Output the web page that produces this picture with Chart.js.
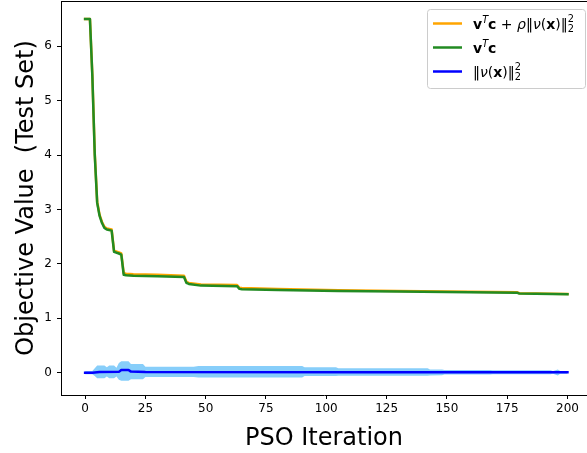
<!DOCTYPE html>
<html>
<head>
<meta charset="utf-8">
<script src="https://cdn.jsdelivr.net/npm/chart.js@4"></script>
<style>
  html, body { margin: 0; padding: 0; background: #fff; }
  #wrap { width: 587px; height: 453px; }
</style>
</head>
<body>
<div id="wrap"><canvas id="psoChart" width="587" height="453"></canvas></div>
<script>
// PSO convergence: objective value on the test set per iteration
// Values (breakpoints only)

// v^T c  (green)
const costIter = [0, 2, 3, 4, 5, 6, 7, 8, 9, 11, 12, 14, 15, 16, 17, 20, 30, 41, 42, 43, 48, 63, 64, 65, 80, 105, 130, 179, 180, 200];
const costVal  = [6.50, 6.50, 5.45, 4.00, 3.12, 2.88, 2.75, 2.66, 2.63, 2.61, 2.22, 2.19, 2.17, 1.80, 1.79, 1.78, 1.77, 1.76, 1.65, 1.63, 1.60, 1.59, 1.54, 1.535, 1.52, 1.50, 1.49, 1.47, 1.455, 1.44];

// v^T c + rho ||nu(x)||^2  (orange)
const totalIter = [0, 2, 3, 4, 5, 6, 7, 8, 9, 11, 12, 14, 15, 16, 17, 20, 30, 41, 42, 43, 48, 63, 64, 65, 80, 105, 130, 179, 180, 200];
const totalVal  = [6.50, 6.50, 5.47, 4.03, 3.14, 2.90, 2.77, 2.68, 2.65, 2.63, 2.24, 2.21, 2.19, 1.83, 1.82, 1.81, 1.80, 1.78, 1.67, 1.65, 1.62, 1.61, 1.56, 1.555, 1.54, 1.515, 1.50, 1.48, 1.46, 1.445];

// ||nu(x)||^2 mean (blue)
const violIter = [0, 3, 6, 14, 15, 18, 19, 25, 120, 200];
const violVal  = [0.0, 0.0, 0.012, 0.015, 0.05, 0.05, 0.02, 0.013, 0.01, 0.006];

// spread band around ||nu(x)||^2 (light blue)
const bandIter = [0, 3, 4, 5, 8, 9, 10, 12, 13, 14, 15, 18, 19, 24, 25, 45, 47, 90, 91, 104, 105, 142, 143, 148, 149, 168, 169, 193, 194, 196, 197, 200];
const bandHi   = [0.03, 0.03, 0.08, 0.13, 0.13, 0.10, 0.13, 0.13, 0.09, 0.18, 0.21, 0.21, 0.16, 0.16, 0.11, 0.11, 0.125, 0.125, 0.10, 0.10, 0.08, 0.08, 0.06, 0.06, 0.05, 0.05, 0.045, 0.045, 0.03, 0.06, 0.03, 0.02];
const bandLo   = [-0.03, -0.03, -0.06, -0.10, -0.10, -0.07, -0.10, -0.10, -0.07, -0.13, -0.15, -0.15, -0.12, -0.12, -0.08, -0.08, -0.09, -0.09, -0.06, -0.06, -0.055, -0.055, -0.05, -0.045, -0.035, -0.035, -0.03, -0.03, -0.02, -0.05, -0.02, -0.02];

const xTickStep = 25;
const yTickStep = 1;

const FONT = '"DejaVu Sans", "Liberation Sans", sans-serif';

function pts(xs, ys) {
    return xs.map((x, i) => ({ x: x, y: ys[i] }));
}

// draws mathtext-like label pieces
function drawRich(ctx, segs, x, y, size) {
    segs.forEach(s => {
        const sz = size * (s.s || 1);
        const style = s.f === 'b' ? 'bold ' : (s.f === 'i' ? 'italic ' : '');
        ctx.font = style + sz + 'px ' + FONT;
        ctx.fillText(s.t, x, y + (s.dy || 0) * size);
        if (s.adv !== false) x += ctx.measureText(s.t).width;
    });
}

const legendItems = [
    { color: '#FFA500', segs: [
        { t: 'v', f: 'b' }, { t: 'T', f: 'i', s: 0.7, dy: -0.42 }, { t: 'c', f: 'b' },
        { t: ' + ' }, { t: 'ρ', f: 'i' }, { t: '‖' }, { t: 'ν', f: 'i' }, { t: '(' },
        { t: 'x', f: 'b' }, { t: ')' }, { t: '‖' },
        { t: '2', s: 0.7, dy: -0.45, adv: false }, { t: '2', s: 0.7, dy: 0.25 }
    ] },
    { color: '#228B22', segs: [
        { t: 'v', f: 'b' }, { t: 'T', f: 'i', s: 0.7, dy: -0.42 }, { t: 'c', f: 'b' }
    ] },
    { color: '#0000FF', segs: [
        { t: '‖' }, { t: 'ν', f: 'i' }, { t: '(' }, { t: 'x', f: 'b' }, { t: ')' }, { t: '‖' },
        { t: '2', s: 0.7, dy: -0.45, adv: false }, { t: '2', s: 0.7, dy: 0.25 }
    ] }
];

const framePlugin = {
    id: 'frame',
    afterDraw(chart) {
        const { ctx, chartArea } = chart;
        ctx.save();
        // top spine
        ctx.strokeStyle = '#000';
        ctx.lineWidth = 1;
        ctx.beginPath();
        ctx.moveTo(chartArea.left, chartArea.top + 0.5);
        ctx.lineTo(chartArea.right, chartArea.top + 0.5);
        ctx.stroke();

        // legend box
        const bx = 427, by = 9, bw = 158, bh = 79;
        ctx.beginPath();
        ctx.roundRect(bx + 0.5, by + 0.5, bw, bh, 3);
        ctx.fillStyle = 'rgba(255,255,255,0.8)';
        ctx.fill();
        ctx.strokeStyle = '#cccccc';
        ctx.stroke();

        ctx.textBaseline = 'alphabetic';
        ctx.textAlign = 'left';
        ctx.fillStyle = '#000';
        legendItems.forEach((item, i) => {
            const ly = 23.5 + i * 24;
            ctx.strokeStyle = item.color;
            ctx.lineWidth = 2.5;
            ctx.beginPath();
            ctx.moveTo(433, ly);
            ctx.lineTo(462, ly);
            ctx.stroke();
            ctx.fillStyle = '#000';
            drawRich(ctx, item.segs, 473, ly + 5, 14);
        });
        ctx.restore();
    }
};

const lineStyle = {
    pointRadius: 0,
    borderWidth: 2.5,
    tension: 0,
    fill: false,
    borderCapStyle: 'square',
    borderJoinStyle: 'round'
};

const bandStyle = {
    pointRadius: 0,
    borderWidth: 0,
    showLine: true,
    borderColor: 'rgba(0,0,0,0)',
    tension: 0
};

new Chart(document.getElementById('psoChart'), {
    type: 'line',
    data: {
        datasets: [
            { label: 'total', data: pts(totalIter, totalVal), borderColor: '#FFA500', order: 2, ...lineStyle },
            { label: 'cost', data: pts(costIter, costVal), borderColor: '#228B22', order: 1, ...lineStyle },
            { label: 'violation', data: pts(violIter, violVal), borderColor: '#0000FF', order: 0, ...lineStyle },
            { label: 'bandHi', data: pts(bandIter, bandHi), fill: { target: 4 }, backgroundColor: '#87CEFA', order: 3, ...bandStyle },
            { label: 'bandLo', data: pts(bandIter, bandLo), fill: false, order: 4, ...bandStyle }
        ]
    },
    options: {
        responsive: false,
        animation: false,
        devicePixelRatio: 1,
        layout: { padding: { top: 1, right: 0, left: 0, bottom: 0 } },
        plugins: {
            legend: { display: false },
            tooltip: { enabled: false }
        },
        scales: {
            x: {
                type: 'linear',
                min: -10,
                max: 208.1,
                afterFit: (s) => { s.height = 58; s.paddingLeft = 0; s.paddingRight = 0; },
                grid: { drawOnChartArea: false, drawTicks: true, tickLength: 4, tickWidth: 1, tickColor: '#000' },
                border: { display: true, color: '#000', width: 1 },
                ticks: {
                    stepSize: xTickStep, includeBounds: false, autoSkip: false, maxRotation: 0,
                    color: '#000', padding: 3, font: { family: FONT, size: 12 }
                },
                title: {
                    display: true, text: 'PSO Iteration', color: '#000',
                    font: { family: FONT, size: 24 }, padding: { top: 0, bottom: 0 }
                }
            },
            y: {
                min: -0.41,
                max: 6.83,
                afterFit: (s) => { s.width = 61; s.paddingTop = 0; s.paddingBottom = 0; },
                grid: { drawOnChartArea: false, drawTicks: true, tickLength: 4, tickWidth: 1, tickColor: '#000' },
                border: { display: true, color: '#000', width: 1 },
                ticks: {
                    stepSize: yTickStep, includeBounds: false, color: '#000', padding: 5,
                    font: { family: FONT, size: 12 }
                },
                title: {
                    display: true, text: 'Objective Value  (Test Set)', color: '#000',
                    font: { family: FONT, size: 24 }, padding: { top: 12, bottom: 0 }
                }
            }
        }
    },
    plugins: [framePlugin]
});
</script>
</body>
</html>
